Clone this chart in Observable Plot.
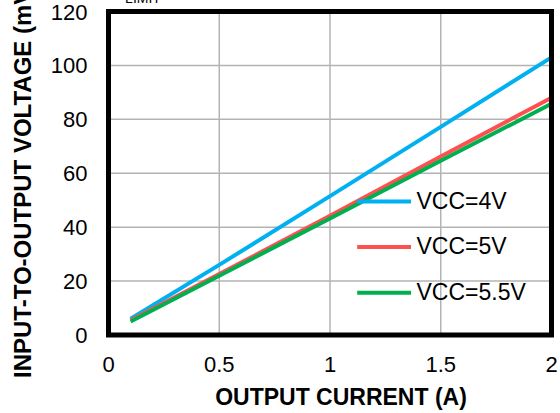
<!DOCTYPE html>
<html>
<head>
<meta charset="utf-8">
<script src="https://cdn.jsdelivr.net/npm/d3@7"></script>
<script src="https://cdn.jsdelivr.net/npm/@observablehq/plot@0.6"></script>
<style>
  html, body { margin: 0; padding: 0; background: #fff; }
  #chart { position: relative; width: 560px; height: 413px; overflow: hidden; }
</style>
</head>
<body>
<div id="chart"></div>
<script>
const currents = [0.1, 0.5, 1.0, 1.5, 2.0];
const vcc4 = [6.0, 26.0, 51.5, 77.2, 103.0];
const vcc5 = [5.5, 22.6, 44.2, 66.2, 88.0];
const vcc55 = [5.0, 22.0, 43.2, 64.6, 85.8];
const seriesNames = ["VCC=4V", "VCC=5V", "VCC=5.5V"];
const seriesColors = ["#00b0f0", "#ff5050", "#00b050"];
const xTicks = [0, 0.5, 1, 1.5, 2];
const yTicks = [0, 20, 40, 60, 80, 100, 120];

const seriesValues = [vcc4, vcc5, vcc55];
const rows = seriesValues.flatMap((vals, i) =>
  vals.map((v, j) => ({ series: seriesNames[i], x: currents[j], y: v })));

const legendRows = seriesNames.map((name, i) => ({ name, i }));
// legend placement in data space (inside the plot)
const legX1 = 1.125, legX2 = 1.368, legTop = 49.5, legStep = 16.9;

const font = "'Liberation Sans', Arial, sans-serif";

const plot = Plot.plot({
  width: 560,
  height: 413,
  marginLeft: 108,
  marginRight: 9,
  marginTop: 11,
  marginBottom: 78.5,
  style: { fontFamily: font, fontSize: "22px", color: "#000", background: "#fff" },
  x: { domain: [0, 2], ticks: xTicks, tickFormat: d => String(d), label: null },
  y: { domain: [0, 120], ticks: yTicks, tickFormat: d => String(d), label: null },
  color: { domain: seriesNames, range: seriesColors },
  marks: [
    Plot.gridX(xTicks, { stroke: "#b3b3b3", strokeOpacity: 1, strokeWidth: 1.5 }),
    Plot.gridY(yTicks, { stroke: "#b3b3b3", strokeOpacity: 1, strokeWidth: 1.5 }),
    Plot.axisX(xTicks, { tickSize: 0, tickPadding: 21, fontSize: 22, tickFormat: d => String(d) }),
    Plot.axisY(yTicks, { tickSize: 0, tickPadding: 21, fontSize: 22, tickFormat: d => String(d), dy: 1 }),
    Plot.line(rows, { x: "x", y: "y", z: "series", stroke: "series", strokeWidth: 4, strokeLinecap: "butt" }),
    Plot.ruleY(legendRows, {
      y: d => legTop - d.i * legStep, x1: legX1, x2: legX2,
      stroke: d => seriesColors[d.i], strokeWidth: 4
    }),
    Plot.text(legendRows, {
      x: legX2, y: d => legTop - d.i * legStep, text: "name",
      textAnchor: "start", dx: 5, fontSize: 23, fill: "#000"
    }),
    Plot.frame({ stroke: "#000", strokeWidth: 5 })
  ]
});

const container = document.getElementById("chart");
container.appendChild(plot);

const svg = d3.select(plot);
svg.append("text")
  .attr("x", 341).attr("y", 405)
  .attr("text-anchor", "middle")
  .attr("font-family", font).attr("font-weight", "bold").attr("font-size", 23)
  .attr("fill", "#000")
  .text("OUTPUT CURRENT (A)");
svg.append("text")
  .attr("transform", "translate(31,378) rotate(-90)")
  .attr("text-anchor", "start")
  .attr("font-family", font).attr("font-weight", "bold").attr("font-size", 24)
  .attr("fill", "#000")
  .text("INPUT-TO-OUTPUT VOLTAGE (mV)");
svg.append("text")
  .attr("x", 143).attr("y", 3)
  .attr("text-anchor", "middle")
  .attr("font-family", font).attr("font-size", 14)
  .attr("fill", "#000")
  .text("LIMIT");
</script>
</body>
</html>
